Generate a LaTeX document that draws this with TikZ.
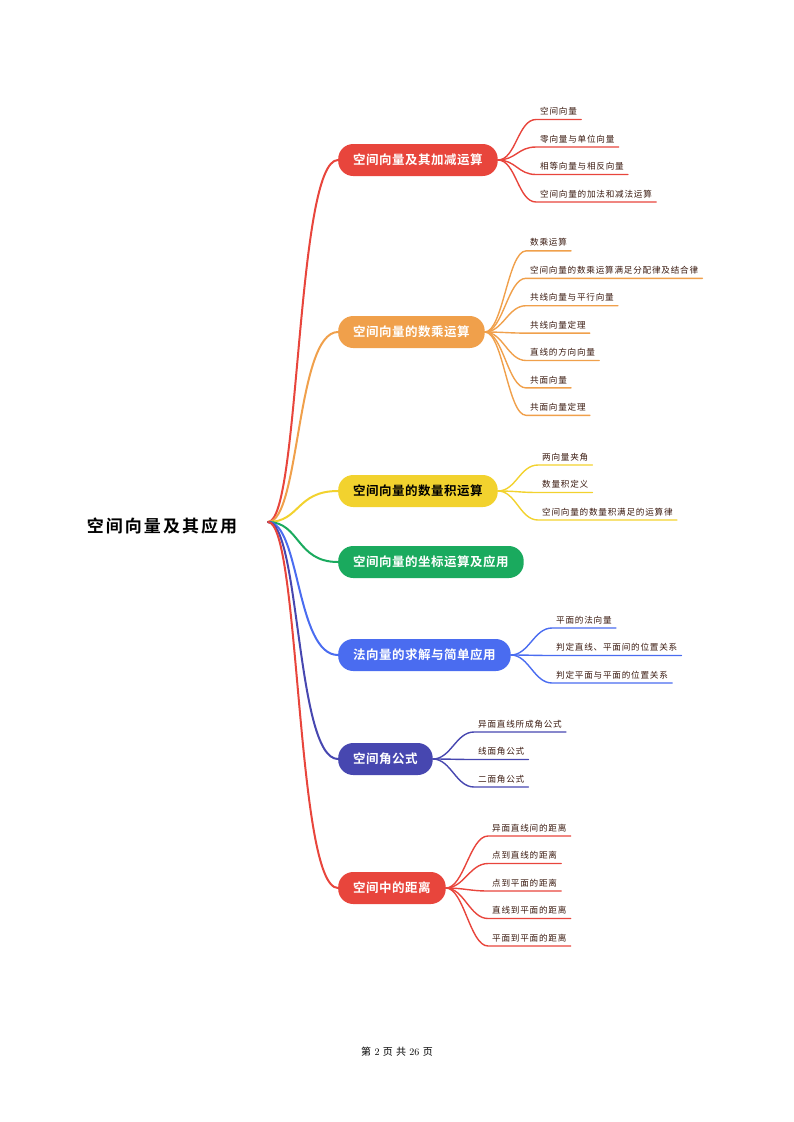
\documentclass[tikz,border=0pt]{standalone}
\usepackage{fontspec}
\setmainfont{Latin Modern Roman}
\newfontfamily\cjk{Noto Sans CJK SC}
\newfontfamily\cjkl[LetterSpace=9]{Noto Sans CJK SC}
\newfontfamily\cjkb[LetterSpace=4]{Noto Sans CJK SC Bold}
\newfontfamily\cjkr[LetterSpace=12]{Noto Sans CJK SC Bold}
\definecolor{cRed}{HTML}{E8453C}
\definecolor{cOrange}{HTML}{F0A04B}
\definecolor{cYellow}{HTML}{F2D22E}
\definecolor{cGreen}{HTML}{1AAA5E}
\definecolor{cBlue}{HTML}{4A6CF0}
\definecolor{cIndigo}{HTML}{4747B0}
\definecolor{cText}{HTML}{3A1A10}
\tikzset{
  pill/.style={rounded corners=15pt, fill=#1, text=white, font=\cjkb\fontsize{12.5}{14}\selectfont,
    minimum height=32pt, inner xsep=15pt, anchor=west},
  leaf/.style={font=\cjkl\fontsize{8.6}{10}\selectfont, text=cText, anchor=south west,
    inner xsep=4pt, inner ysep=4pt},
  link/.style={line width=2pt, draw=#1, line cap=round},
  twig/.style={line width=1.4pt, draw=#1, line cap=round}
}
\begin{document}
\begin{tikzpicture}[x=1pt,y=-1pt]
\useasboundingbox (0,0) rectangle (794,1122);
\node (root) [font=\cjkr\fontsize{17}{20}\selectfont] at (162,526) {空间向量及其应用};
\coordinate (hub) at (268,522);
% main branches
\node (p1) [pill=cRed] at (338,160) {空间向量及其加减运算};
\node (p2) [pill=cOrange] at (338,332) {空间向量的数乘运算};
\node (p3) [pill=cYellow, text=black] at (338,491) {空间向量的数量积运算};
\node (p4) [pill=cGreen] at (338,562) {空间向量的坐标运算及应用};
\node (p5) [pill=cBlue] at (338,655) {法向量的求解与简单应用};
\node (p6) [pill=cIndigo] at (338,759) {空间角公式};
\node (p7) [pill=cRed] at (338,888) {空间中的距离};
\foreach \p/\c in {p1/cRed,p2/cOrange,p3/cYellow,p4/cGreen,p5/cBlue,p6/cIndigo,p7/cRed}
  \draw [link=\c] (hub) .. controls (300,522) and (296,0|-\p.west) .. (\p.west);
% leaves
\foreach \t [count=\i] in {空间向量,零向量与单位向量,相等向量与相反向量,空间向量的加法和减法运算}
  \node (a\i) [leaf] at (536,92+27.5*\i) {\t};
\foreach \t [count=\i] in {数乘运算,空间向量的数乘运算满足分配律及结合律,共线向量与平行向量,共线向量定理,直线的方向向量,共面向量,共面向量定理}
  \node (b\i) [leaf] at (526,223.5+27.4*\i) {\t};
\foreach \t [count=\i] in {两向量夹角,数量积定义,空间向量的数量积满足的运算律}
  \node (c\i) [leaf] at (538,437.5+27.5*\i) {\t};
\foreach \t [count=\i] in {平面的法向量,判定直线、平面间的位置关系,判定平面与平面的位置关系}
  \node (d\i) [leaf] at (552,600.5+27.5*\i) {\t};
\foreach \t [count=\i] in {异面直线所成角公式,线面角公式,二面角公式}
  \node (e\i) [leaf] at (474,704.5+27.5*\i) {\t};
\foreach \t [count=\i] in {异面直线间的距离,点到直线的距离,点到平面的距离,直线到平面的距离,平面到平面的距离}
  \node (f\i) [leaf] at (488,808.5+27.5*\i) {\t};
% twigs
\foreach \n in {1,...,4}
  \draw [twig=cRed] (p1.east) .. controls +(18,0) and +(-18,0) .. (a\n.south west) -- (a\n.south east);
\foreach \n in {1,...,7}
  \draw [twig=cOrange] (p2.east) .. controls +(18,0) and +(-18,0) .. (b\n.south west) -- (b\n.south east);
\foreach \n in {1,...,3}
  \draw [twig=cYellow] (p3.east) .. controls +(18,0) and +(-18,0) .. (c\n.south west) -- (c\n.south east);
\foreach \n in {1,...,3}
  \draw [twig=cBlue] (p5.east) .. controls +(18,0) and +(-18,0) .. (d\n.south west) -- (d\n.south east);
\foreach \n in {1,...,3}
  \draw [twig=cIndigo] (p6.east) .. controls +(18,0) and +(-18,0) .. (e\n.south west) -- (e\n.south east);
\foreach \n in {1,...,5}
  \draw [twig=cRed] (p7.east) .. controls +(18,0) and +(-18,0) .. (f\n.south west) -- (f\n.south east);
\node (foot) [font=\fontsize{10}{12}\selectfont] at (397,1052) {{\cjk 第} 2 {\cjk 页} {\cjk 共} 26 {\cjk 页}};
\end{tikzpicture}
\end{document}
